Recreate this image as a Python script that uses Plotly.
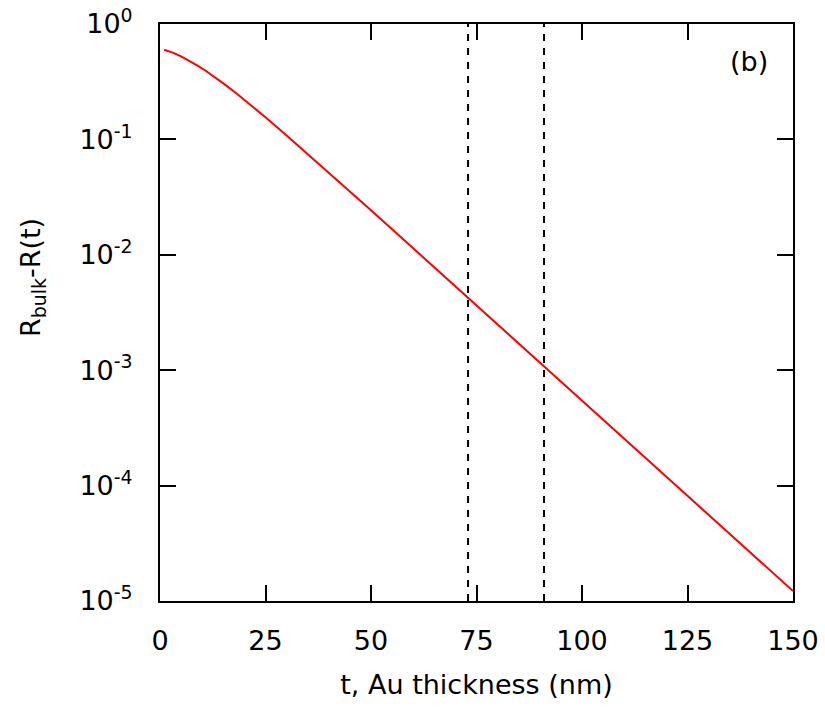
import plotly.graph_objects as go

# Data
thickness_nm = [1, 3, 5, 7, 9, 11, 13, 15, 18, 21, 25, 30, 35, 40, 50, 60,
                73, 80, 91, 100, 110, 120, 130, 140, 150]
r_diff = [0.5982, 0.5649, 0.5244, 0.4800, 0.4343, 0.3894, 0.3463, 0.3060,
          0.2520, 0.2056, 0.1553, 0.1082, 0.07483, 0.05157, 0.02427, 0.01138,
          0.004245, 0.002493, 0.001081, 5.455e-4, 2.551e-4, 1.193e-4,
          5.58e-5, 2.61e-5, 1.221e-5]
marker_lines = [73, 91]

x_ticks = [0, 25, 50, 75, 100, 125, 150]
y_ticks = [1e0, 1e-1, 1e-2, 1e-3, 1e-4, 1e-5]
y_ticktext = ["10<sup>0</sup>", "10<sup>-1</sup>", "10<sup>-2</sup>",
              "10<sup>-3</sup>", "10<sup>-4</sup>", "10<sup>-5</sup>"]
x_title = "t, Au thickness (nm)"
y_title = "R<sub>bulk</sub>-R(t)"
panel_label = "(b)"

FONT = "DejaVu Sans"
FS = 27

fig = go.Figure()
fig.add_trace(go.Scatter(x=thickness_nm, y=r_diff, mode="lines",
                         line=dict(color="#ff0000", width=2),
                         showlegend=False, hoverinfo="skip"))

for xv in marker_lines:
    fig.add_shape(type="line", xref="x", yref="y domain", x0=xv, x1=xv,
                  y0=0, y1=1, line=dict(color="black", width=2, dash="7px,7px"))

fig.add_annotation(text=panel_label, xref="x domain", yref="y domain", x=0.930, y=0.935,
                   showarrow=False, font=dict(family=FONT, size=FS, color="black"),
                   xanchor="center", yanchor="middle")

# y-axis title placed as rotated annotation (paper coords relative to plot area)
fig.add_annotation(text=y_title, xref="paper", yref="paper",
                   x=(32 - 160) / 633, y=1 - (278 - 24) / 577,
                   textangle=-90, showarrow=False,
                   font=dict(family=FONT, size=FS, color="black"),
                   xanchor="center", yanchor="middle")

fig.update_layout(
    width=825, height=719,
    margin=dict(l=160, r=32, t=24, b=118),
    paper_bgcolor="white", plot_bgcolor="white",
    font=dict(family=FONT, size=FS, color="black"),
    showlegend=False,
)
fig.update_xaxes(range=[0, 150], tickvals=x_ticks, ticktext=[str(v) for v in x_ticks],
                 ticks="inside", ticklen=16, tickwidth=1.5, tickcolor="black",
                 showline=True, linecolor="black", linewidth=2, mirror="ticks",
                 showgrid=False, zeroline=False, ticklabelstandoff=15, automargin=False,
                 tickfont=dict(family=FONT, size=FS, color="black"),
                 title=dict(text=x_title, standoff=20,
                            font=dict(family=FONT, size=FS, color="black")))
fig.update_yaxes(type="log", range=[-5, 0], tickvals=y_ticks, ticktext=y_ticktext,
                 ticks="inside", ticklen=16, tickwidth=1.5, tickcolor="black",
                 showline=True, linecolor="black", linewidth=2, mirror="ticks",
                 showgrid=False, zeroline=False, ticklabelstandoff=20, automargin=False,
                 tickfont=dict(family=FONT, size=FS, color="black"))

fig.write_html("out.html")
